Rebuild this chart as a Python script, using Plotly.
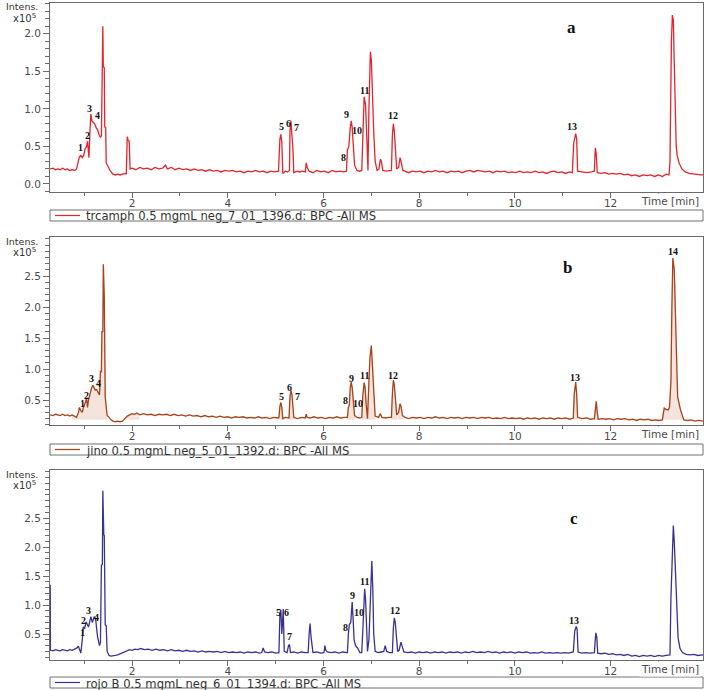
import plotly.graph_objects as go

W, H = 709, 690

# ---------------- data (time [min], intensity x10^5) ----------------
A_POINTS = [
    (0.29,0.20),(0.35,0.21),(0.40,0.19),(0.45,0.20),(0.50,0.19),(0.55,0.21),(0.60,0.19),(0.65,0.20),
    (0.70,0.18),(0.75,0.19),(0.80,0.18),(0.84,0.20),(0.87,0.28),(0.90,0.36),(0.93,0.38),(0.96,0.35),
    (0.99,0.38),(1.02,0.47),(1.05,0.50),(1.07,0.57),(1.09,0.42),(1.10,0.35),(1.12,0.70),(1.14,0.93),
    (1.16,0.84),(1.19,0.82),(1.22,0.80),(1.25,0.75),(1.28,0.72),(1.31,0.66),(1.34,0.62),(1.36,0.64),
    (1.37,1.60),(1.39,2.10),(1.40,1.56),(1.42,1.55),(1.43,0.76),(1.45,0.75),(1.46,0.28),(1.50,0.22),
    (1.55,0.17),(1.60,0.13),(1.65,0.12),(1.70,0.13),(1.75,0.12),(1.80,0.13),(1.86,0.14),(1.88,0.13),
    (1.90,0.63),(1.92,0.58),(1.94,0.57),(1.96,0.20),
    (2.00,0.21),(2.08,0.19),(2.16,0.22),(2.24,0.20),(2.32,0.21),(2.40,0.19),(2.48,0.22),(2.56,0.20),
    (2.64,0.21),(2.70,0.25),(2.74,0.20),(2.82,0.22),(2.90,0.19),(2.98,0.21),(3.06,0.19),(3.14,0.20),
    (3.22,0.18),(3.30,0.20),(3.38,0.18),(3.46,0.19),(3.54,0.17),(3.62,0.19),(3.70,0.17),(3.78,0.18),
    (3.86,0.16),(3.94,0.18),(4.02,0.17),(4.10,0.18),(4.18,0.16),(4.26,0.17),(4.34,0.15),(4.42,0.17),
    (4.50,0.16),(4.58,0.18),(4.66,0.16),(4.74,0.17),(4.82,0.15),(4.90,0.17),(4.98,0.16),(5.06,0.17),
    (5.09,0.60),(5.11,0.66),(5.13,0.55),(5.15,0.14),(5.20,0.17),(5.25,0.16),(5.29,0.18),(5.30,0.70),
    (5.32,0.84),(5.34,0.65),(5.36,0.50),(5.38,0.15),(5.45,0.17),(5.50,0.16),(5.56,0.17),(5.62,0.16),
    (5.64,0.28),(5.66,0.22),(5.70,0.17),(5.78,0.15),(5.86,0.18),(5.94,0.16),(6.02,0.17),(6.10,0.15),
    (6.18,0.18),(6.26,0.16),(6.34,0.17),(6.42,0.16),(6.48,0.17),(6.50,0.45),(6.53,0.50),(6.56,0.75),
    (6.58,0.84),(6.60,0.75),(6.62,0.56),(6.65,0.25),(6.70,0.18),(6.75,0.17),(6.80,0.18),(6.82,0.72),
    (6.85,1.16),(6.88,1.05),(6.90,0.60),(6.93,0.18),(6.95,1.00),(6.98,1.76),(7.00,1.65),(7.03,1.00),
    (7.05,0.70),(7.08,0.30),(7.12,0.18),(7.16,0.20),(7.19,0.33),(7.21,0.30),(7.24,0.18),(7.30,0.17),
    (7.36,0.18),(7.42,0.18),(7.44,0.65),(7.46,0.80),(7.48,0.70),(7.51,0.45),(7.53,0.20),(7.57,0.22),
    (7.60,0.35),(7.62,0.30),(7.66,0.18),
    (7.70,0.17),(7.78,0.15),(7.86,0.17),(7.94,0.16),(8.02,0.17),(8.10,0.15),(8.18,0.17),(8.26,0.16),
    (8.34,0.18),(8.42,0.16),(8.50,0.17),(8.58,0.15),(8.66,0.17),(8.74,0.16),(8.82,0.17),(8.90,0.15),
    (8.98,0.17),(9.06,0.18),(9.14,0.16),(9.22,0.18),(9.30,0.17),(9.38,0.16),(9.46,0.17),(9.54,0.15),
    (9.62,0.17),(9.70,0.16),(9.78,0.17),(9.86,0.15),(9.94,0.16),(10.02,0.15),(10.10,0.17),(10.18,0.15),
    (10.26,0.16),(10.34,0.15),(10.42,0.17),(10.50,0.15),(10.58,0.16),(10.66,0.14),(10.74,0.16),(10.82,0.17),
    (10.90,0.15),(10.98,0.16),(11.06,0.14),(11.14,0.16),(11.20,0.15),
    (11.23,0.55),(11.27,0.67),(11.29,0.60),(11.31,0.17),(11.40,0.16),(11.50,0.15),(11.60,0.16),(11.66,0.17),
    (11.68,0.48),(11.70,0.40),(11.72,0.15),
    (11.80,0.14),(11.88,0.15),(11.96,0.13),(12.04,0.14),(12.12,0.13),(12.20,0.14),(12.28,0.12),(12.36,0.13),
    (12.44,0.11),(12.52,0.12),(12.60,0.10),(12.68,0.12),(12.76,0.11),(12.84,0.12),(12.92,0.10),(13.00,0.12),
    (13.08,0.10),(13.16,0.13),(13.22,0.12),
    (13.24,0.30),(13.25,0.90),(13.27,1.90),(13.29,2.25),(13.31,2.18),(13.33,1.60),(13.35,1.00),(13.37,0.50),
    (13.39,0.38),(13.43,0.28),(13.49,0.20),(13.56,0.16),(13.64,0.14),(13.72,0.13),(13.80,0.12),(13.88,0.12),
    (13.93,0.12),
]

B_POINTS = [
    (0.29,0.26),(0.35,0.25),(0.40,0.27),(0.45,0.26),(0.50,0.25),(0.55,0.27),(0.60,0.25),(0.65,0.26),
    (0.70,0.24),(0.75,0.26),(0.80,0.24),(0.84,0.22),(0.88,0.30),(0.90,0.38),(0.93,0.33),(0.96,0.30),
    (0.99,0.40),(1.02,0.45),(1.05,0.53),(1.07,0.38),(1.09,0.50),(1.12,0.62),(1.15,0.68),(1.18,0.74),
    (1.20,0.70),(1.23,0.66),(1.26,0.67),(1.29,0.62),(1.32,0.58),(1.34,0.97),(1.36,0.95),(1.37,1.61),
    (1.39,1.60),(1.40,2.69),(1.42,2.19),(1.44,0.54),(1.46,0.30),(1.48,0.25),(1.52,0.22),(1.56,0.18),
    (1.60,0.16),(1.65,0.15),(1.70,0.16),(1.75,0.15),(1.80,0.16),(1.85,0.20),(1.90,0.24),(1.95,0.26),
    (2.00,0.28),(2.05,0.27),(2.10,0.29),(2.16,0.26),(2.24,0.28),(2.32,0.26),(2.40,0.27),(2.48,0.25),
    (2.56,0.27),(2.64,0.26),(2.72,0.27),(2.80,0.25),(2.88,0.27),(2.96,0.25),(3.04,0.26),(3.12,0.24),
    (3.20,0.26),(3.28,0.24),(3.36,0.25),(3.44,0.23),(3.52,0.25),(3.60,0.23),(3.68,0.24),(3.76,0.22),
    (3.84,0.24),(3.92,0.22),(4.00,0.23),(4.08,0.21),(4.16,0.23),(4.24,0.22),(4.32,0.23),(4.40,0.21),
    (4.48,0.22),(4.56,0.21),(4.64,0.23),(4.72,0.21),(4.80,0.22),(4.88,0.20),(4.96,0.22),(5.05,0.21),
    (5.07,0.22),(5.09,0.40),(5.11,0.46),(5.13,0.38),(5.15,0.20),(5.20,0.22),(5.28,0.21),(5.30,0.55),
    (5.32,0.65),(5.34,0.60),(5.36,0.45),(5.38,0.22),(5.45,0.20),(5.55,0.22),(5.62,0.21),(5.64,0.27),
    (5.66,0.22),(5.72,0.21),(5.80,0.23),(5.88,0.21),(5.96,0.22),(6.04,0.20),(6.12,0.22),(6.20,0.21),
    (6.28,0.23),(6.36,0.21),(6.44,0.22),(6.50,0.22),(6.52,0.38),(6.54,0.42),(6.56,0.70),(6.58,0.79),
    (6.60,0.70),(6.62,0.55),(6.65,0.25),(6.70,0.22),(6.76,0.21),(6.80,0.22),(6.82,0.55),(6.85,0.78),
    (6.87,0.70),(6.89,0.45),(6.92,0.20),(6.95,0.80),(6.97,1.18),(7.00,1.38),(7.02,1.10),(7.04,0.70),
    (7.06,0.40),(7.08,0.24),(7.15,0.22),(7.19,0.28),(7.22,0.22),(7.30,0.21),(7.36,0.22),(7.42,0.22),
    (7.44,0.60),(7.46,0.82),(7.48,0.75),(7.50,0.50),(7.53,0.26),(7.57,0.30),(7.60,0.44),(7.62,0.40),
    (7.65,0.25),(7.70,0.22),
    (7.78,0.20),(7.86,0.22),(7.94,0.21),(8.02,0.22),(8.10,0.20),(8.18,0.22),(8.26,0.21),(8.34,0.23),
    (8.42,0.21),(8.50,0.22),(8.58,0.20),(8.66,0.22),(8.74,0.21),(8.82,0.22),(8.90,0.20),(8.98,0.22),
    (9.06,0.21),(9.14,0.22),(9.22,0.20),(9.30,0.22),(9.38,0.21),(9.46,0.22),(9.54,0.20),(9.62,0.21),
    (9.70,0.20),(9.78,0.22),(9.86,0.20),(9.94,0.21),(10.02,0.20),(10.10,0.21),(10.18,0.19),(10.26,0.21),
    (10.34,0.20),(10.42,0.21),(10.50,0.19),(10.58,0.21),(10.66,0.20),(10.74,0.21),(10.82,0.19),(10.90,0.21),
    (10.98,0.20),(11.06,0.21),(11.14,0.19),(11.22,0.21),
    (11.24,0.60),(11.27,0.79),(11.29,0.60),(11.31,0.22),(11.40,0.20),(11.50,0.21),(11.58,0.19),(11.66,0.20),
    (11.68,0.40),(11.70,0.48),(11.72,0.30),(11.74,0.19),
    (11.82,0.20),(11.90,0.19),(11.98,0.20),(12.06,0.18),(12.14,0.20),(12.22,0.19),(12.30,0.20),(12.38,0.18),
    (12.46,0.19),(12.54,0.17),(12.62,0.19),(12.70,0.18),(12.78,0.19),(12.86,0.17),(12.94,0.18),(13.02,0.17),
    (13.08,0.18),(13.10,0.30),(13.12,0.37),(13.16,0.35),(13.20,0.34),(13.23,0.38),(13.26,0.80),(13.28,2.00),
    (13.30,2.79),(13.33,2.60),(13.36,1.47),(13.40,0.55),(13.46,0.34),(13.53,0.18),(13.60,0.17),(13.68,0.18),
    (13.76,0.16),(13.84,0.17),(13.93,0.16),
]

C_POINTS = [
    (0.29,1.35),(0.295,0.22),(0.35,0.21),(0.40,0.23),(0.45,0.22),(0.50,0.21),(0.55,0.23),(0.60,0.22),
    (0.65,0.21),(0.70,0.23),(0.75,0.22),(0.80,0.24),(0.85,0.26),(0.88,0.29),(0.90,0.22),(0.93,0.17),
    (0.96,0.40),(0.98,0.62),(1.01,0.60),(1.04,0.71),(1.07,0.66),(1.09,0.62),(1.14,0.80),(1.17,0.70),
    (1.21,0.80),(1.24,0.75),(1.28,0.45),(1.32,0.30),(1.34,0.35),(1.36,1.69),(1.38,1.70),(1.39,2.97),
    (1.41,2.21),(1.42,2.20),(1.44,0.66),(1.46,0.65),(1.48,0.20),(1.52,0.13),(1.56,0.12),(1.60,0.13),
    (1.65,0.13),(1.70,0.14),(1.75,0.16),(1.80,0.18),(1.85,0.20),(1.90,0.22),(1.95,0.23),(2.00,0.22),
    (2.06,0.24),(2.12,0.23),(2.18,0.25),(2.26,0.23),(2.34,0.24),(2.42,0.22),(2.50,0.24),(2.58,0.22),
    (2.66,0.23),(2.74,0.21),(2.82,0.23),(2.90,0.21),(2.98,0.22),(3.06,0.20),(3.14,0.22),(3.22,0.20),
    (3.30,0.21),(3.38,0.19),(3.46,0.21),(3.54,0.19),(3.62,0.20),(3.70,0.19),(3.78,0.20),(3.86,0.18),
    (3.94,0.20),(4.02,0.18),(4.10,0.19),(4.18,0.18),(4.26,0.19),(4.34,0.17),(4.42,0.19),(4.50,0.18),
    (4.58,0.19),(4.66,0.17),(4.71,0.18),(4.74,0.26),(4.77,0.19),(4.84,0.18),(4.92,0.19),(5.00,0.17),
    (5.07,0.18),(5.09,0.85),(5.11,0.92),(5.13,0.50),(5.15,0.90),(5.16,0.93),(5.18,0.20),(5.24,0.18),
    (5.27,0.30),(5.29,0.32),(5.31,0.18),(5.38,0.19),(5.46,0.17),(5.54,0.19),(5.62,0.18),(5.68,0.18),
    (5.70,0.50),(5.72,0.68),(5.74,0.45),(5.76,0.30),(5.78,0.18),(5.86,0.19),(5.94,0.17),(6.01,0.18),
    (6.03,0.30),(6.05,0.22),(6.08,0.19),(6.16,0.18),(6.24,0.19),(6.32,0.17),(6.40,0.19),(6.48,0.18),
    (6.50,0.18),(6.52,0.50),(6.54,0.66),(6.57,0.70),(6.60,1.05),(6.62,0.75),(6.64,0.40),(6.67,0.30),
    (6.72,0.25),(6.76,0.18),(6.80,0.18),(6.83,0.70),(6.86,1.28),(6.88,1.10),(6.90,0.50),(6.92,0.20),
    (6.95,0.40),(6.98,1.10),(7.01,1.76),(7.03,1.30),(7.05,0.50),(7.08,0.20),(7.14,0.18),(7.20,0.19),
    (7.26,0.20),(7.29,0.30),(7.32,0.20),(7.38,0.18),(7.44,0.18),(7.46,0.60),(7.48,0.78),(7.50,0.70),
    (7.52,0.45),(7.55,0.20),(7.58,0.22),(7.62,0.36),(7.64,0.30),(7.68,0.19),
    (7.76,0.18),(7.84,0.19),(7.92,0.17),(8.00,0.19),(8.08,0.18),(8.16,0.19),(8.24,0.17),(8.32,0.19),
    (8.40,0.18),(8.48,0.19),(8.56,0.17),(8.64,0.19),(8.72,0.18),(8.80,0.19),(8.88,0.17),(8.96,0.19),
    (9.04,0.18),(9.12,0.20),(9.20,0.18),(9.28,0.19),(9.36,0.18),(9.44,0.20),(9.52,0.18),(9.60,0.19),
    (9.68,0.17),(9.76,0.19),(9.84,0.18),(9.92,0.19),(10.00,0.17),(10.08,0.19),(10.16,0.18),(10.24,0.19),
    (10.32,0.17),(10.40,0.18),(10.48,0.17),(10.56,0.19),(10.64,0.17),(10.72,0.18),(10.80,0.17),(10.88,0.18),
    (10.96,0.17),(11.04,0.18),(11.12,0.17),(11.22,0.19),
    (11.25,0.55),(11.28,0.63),(11.30,0.58),(11.32,0.19),(11.40,0.17),(11.48,0.18),(11.56,0.17),(11.66,0.18),
    (11.69,0.52),(11.71,0.45),(11.73,0.17),
    (11.80,0.16),(11.88,0.17),(11.96,0.15),(12.04,0.16),(12.12,0.14),(12.20,0.15),(12.28,0.13),(12.36,0.15),
    (12.44,0.12),(12.52,0.13),(12.60,0.11),(12.68,0.13),(12.76,0.12),(12.84,0.13),(12.92,0.11),(13.00,0.13),
    (13.08,0.12),(13.16,0.13),(13.24,0.14),
    (13.26,1.12),(13.29,2.20),(13.31,2.37),(13.33,2.09),(13.37,1.10),(13.41,0.43),(13.45,0.25),(13.50,0.18),
    (13.58,0.15),(13.66,0.14),(13.74,0.15),(13.82,0.13),(13.93,0.14),
]

# peak labels: (text, time, intensity)
A_LABELS = [("1",0.93,0.49),("2",1.06,0.64),("3",1.12,1.01),("4",1.27,0.91),("5",5.13,0.76),
            ("6",5.26,0.80),("7",5.43,0.75),("8",6.41,0.35),("9",6.49,0.92),("10",6.70,0.71),
            ("11",6.85,1.25),("12",7.45,0.91),("13",11.19,0.76)]
B_LABELS = [("1",0.955,0.44),("2",1.04,0.58),("3",1.16,0.85),("4",1.29,0.76),("5",5.13,0.55),
            ("6",5.28,0.71),("7",5.45,0.55),("8",6.47,0.50),("9",6.58,0.85),("10",6.72,0.45),
            ("11",6.85,0.90),("12",7.45,0.90),("13",11.26,0.87),("14",13.31,2.89)]
C_LABELS = [("1",0.955,0.52),("2",0.98,0.74),("3",1.10,0.90),("4",1.25,0.78),("5",5.07,0.88),
            ("6",5.22,0.88),("7",5.30,0.45),("8",6.47,0.62),("9",6.60,1.16),("10",6.74,0.88),
            ("11",6.85,1.40),("12",7.50,0.90),("13",11.24,0.74)]

# integrated regions in chromatogram b (start, end)
B_FILL_REGIONS = [(0.75,1.47),(1.83,2.15),(5.07,5.16),(5.28,5.40),(6.50,6.66),(6.80,7.08),
                  (7.42,7.54),(7.57,7.66),(11.22,11.32),(11.66,11.74),(13.08,13.53)]
B_FILL_BASE = 0.19

LEGENDS = ["trcamph 0.5 mgmL neg_7_01_1396.d: BPC -All MS",
           "jino 0.5 mgmL neg_5_01_1392.d: BPC -All MS",
           "rojo B 0.5 mgmL neg_6_01_1394.d: BPC -All MS"]
LETTERS = [("a",11.19,2.08),("b",11.09,2.63),("c",11.24,2.50)]
X_TICKS = [2,4,6,8,10,12]
Y_TICKS = [[0,0.5,1.0,1.5,2.0],[0.5,1.0,1.5,2.0,2.5],[0.5,1.0,1.5,2.0,2.5]]

# ---------------- layout geometry (pixels) ----------------
X_RANGE = [0.286, 13.93]
PLOT_L, PLOT_R = 50, 703
panels = [
    dict(pts=A_POINTS, labels=A_LABELS, color="#e3252d", top=3, bot=192, yr=[-0.107, 2.41], leg=(210, 221)),
    dict(pts=B_POINTS, labels=B_LABELS, color="#a8421a", top=237, bot=425, yr=[0.097, 3.13], leg=(444, 455)),
    dict(pts=C_POINTS, labels=C_LABELS, color="#3a3290", top=470, bot=660, yr=[0.052, 3.33], leg=(677, 688)),
]

def px(x):
    return x / W

def py(y):
    return 1 - y / H

fig = go.Figure()
annotations = []
shapes = []
AX = "#6a6a6a"
TICKFONT = dict(family="DejaVu Sans", size=10.5, color="#4a4a4a")

for i, p in enumerate(panels):
    n = "" if i == 0 else str(i + 1)
    xa, ya = "x" + n, "y" + n
    ts = [q[0] for q in p["pts"]]
    vs = [q[1] for q in p["pts"]]

    if i == 1:
        for (s, e) in B_FILL_REGIONS:
            seg = [(t, v) for t, v in zip(ts, vs) if s <= t <= e]
            fx = [s] + [q[0] for q in seg] + [e, s]
            fy = [B_FILL_BASE] + [q[1] for q in seg] + [B_FILL_BASE, B_FILL_BASE]
            fig.add_trace(go.Scatter(x=fx, y=fy, mode="lines", fill="toself",
                                     fillcolor="rgba(222,170,148,0.32)",
                                     line=dict(width=0.5, color="rgba(200,140,120,0.35)"),
                                     xaxis=xa, yaxis=ya, hoverinfo="skip", showlegend=False))

    fig.add_trace(go.Scatter(x=ts, y=vs, mode="lines", line=dict(color=p["color"], width=1.3),
                             xaxis=xa, yaxis=ya, showlegend=False))

    xkey = "xaxis" + n
    ykey = "yaxis" + n
    fig.update_layout(**{
        xkey: dict(domain=[px(PLOT_L), px(PLOT_R)], range=X_RANGE, anchor=ya,
                   showgrid=False, zeroline=False, showline=True, linecolor=AX, linewidth=1,
                   mirror=True, ticks="outside", ticklen=5, tickcolor=AX, tickvals=X_TICKS,
                   ticktext=[str(v) for v in X_TICKS], tickfont=TICKFONT, ticklabelstandoff=-4,
                   minor=dict(dtick=1, tick0=0, ticks="outside", ticklen=3, tickcolor=AX)),
        ykey: dict(domain=[py(p["bot"]), py(p["top"])], range=p["yr"], anchor=xa,
                   showgrid=False, zeroline=False, showline=True, linecolor=AX, linewidth=1,
                   mirror=True, ticks="outside", ticklen=6, tickcolor=AX, tickvals=Y_TICKS[i],
                   ticktext=["%.1f" % v for v in Y_TICKS[i]], tickfont=TICKFONT,
                   minor=dict(dtick=0.1, tick0=0, ticks="outside", ticklen=4, tickcolor=AX)),
    })

    # peak labels
    for (txt, t, v) in p["labels"]:
        annotations.append(dict(x=t, y=v, xref=xa, yref=ya, text="<b>%s</b>" % txt, showarrow=False,
                                font=dict(family="Liberation Serif", size=10, color="#111"),
                                xanchor="center", yanchor="middle"))
    lt, lx, ly = LETTERS[i]
    annotations.append(dict(x=lx, y=ly, xref=xa, yref=ya, text="<b>%s</b>" % lt, showarrow=False,
                            font=dict(family="Liberation Serif", size=17, color="#111"),
                            xanchor="center", yanchor="middle"))

    # Intens. label
    annotations.append(dict(x=px(22), y=py(p["top"] + 4), xref="paper", yref="paper", text="Intens.",
                            showarrow=False, font=dict(family="DejaVu Sans", size=9.5, color="#333"),
                            xanchor="center", yanchor="middle"))
    annotations.append(dict(x=px(24), y=py(p["top"] + 15), xref="paper", yref="paper",
                            text="x10<sup>5</sup>", showarrow=False,
                            font=dict(family="DejaVu Sans", size=10, color="#333"),
                            xanchor="center", yanchor="middle"))

    # Time [min]
    annotations.append(dict(x=px(701), y=py(p["bot"] + 9), xref="paper", yref="paper", text="Time [min]",
                            showarrow=False, font=TICKFONT, xanchor="right", yanchor="middle",
                            bgcolor="white"))

    # legend box
    l0, l1 = p["leg"]
    shapes.append(dict(type="rect", xref="paper", yref="paper", x0=px(PLOT_L), x1=px(PLOT_R),
                       y0=py(l1), y1=py(l0), line=dict(color="#707070", width=1), fillcolor="white"))
    shapes.append(dict(type="line", xref="paper", yref="paper", x0=px(55), x1=px(80),
                       y0=py((l0 + l1) / 2), y1=py((l0 + l1) / 2), line=dict(color=p["color"], width=1.2)))
    annotations.append(dict(x=px(85), y=py((l0 + l1) / 2 + 1), xref="paper", yref="paper", text=LEGENDS[i],
                            showarrow=False, font=dict(family="DejaVu Sans", size=11.6, color="#333"),
                            xanchor="left", yanchor="middle", borderpad=0))

fig.update_layout(width=W, height=H, margin=dict(l=0, r=0, t=0, b=0),
                  paper_bgcolor="white", plot_bgcolor="white",
                  annotations=annotations, shapes=shapes, showlegend=False)

fig.write_html("out.html")
